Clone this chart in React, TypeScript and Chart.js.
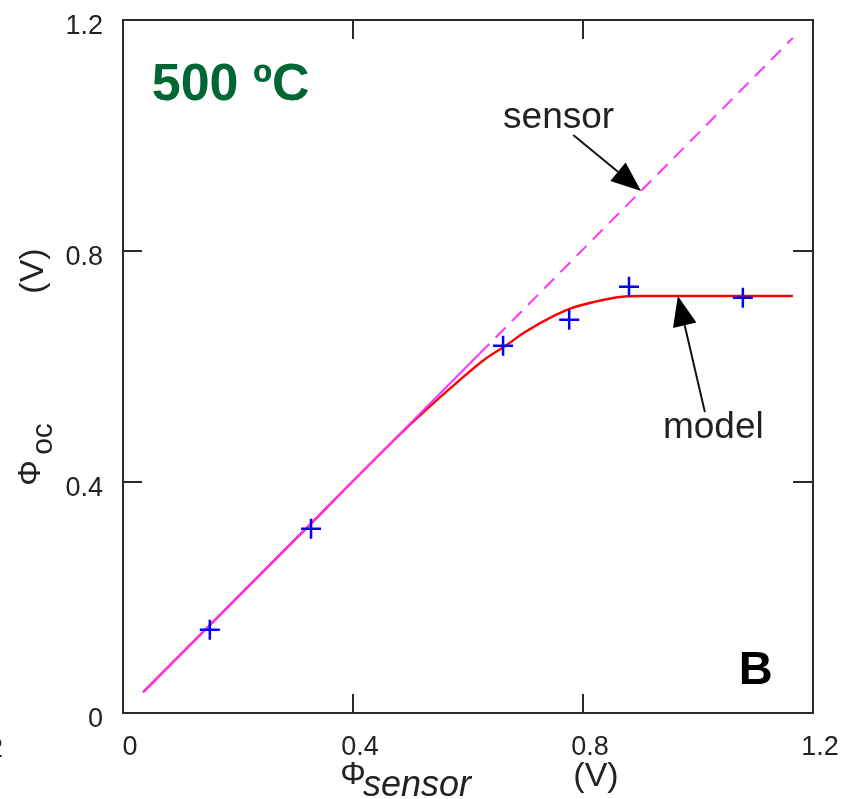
import React, { useEffect, useRef } from "react";
import { Chart, registerables } from "chart.js";

Chart.register(...registerables);

// ---- data ----
const xTickValues = [0, 0.4, 0.8, 1.2];
const xTickLabels = ["0", "0.4", "0.8", "1.2"];
const yTickValues = [0, 0.4, 0.8, 1.2];
const yTickLabels = ["0", "0.4", "0.8", "1.2"];

const measuredX = [0.151, 0.327, 0.661, 0.776, 0.88, 1.078];
const measuredY = [0.144, 0.319, 0.636, 0.681, 0.738, 0.719];

const modelX = [0.035, 0.3, 0.5, 0.57, 0.63, 0.664, 0.7, 0.75, 0.78, 0.82, 0.86, 0.9, 0.95, 1.165];
const modelY = [0.036, 0.301, 0.5, 0.563, 0.613, 0.635, 0.66, 0.688, 0.701, 0.712, 0.72, 0.722, 0.722, 0.722];

const sensorX = [0.035, 0.62, 1.165];
const sensorY = [0.036, 0.622, 1.169];

const FONT = "'Liberation Sans', Arial, sans-serif";

const toPts = (xs: number[], ys: number[]) => xs.map((x, i) => ({ x, y: ys[i] }));

function arrow(ctx: CanvasRenderingContext2D, x0: number, y0: number, x1: number, y1: number) {
  const ang = Math.atan2(y1 - y0, x1 - x0);
  const headLen = 30;
  const headW = 12;
  const bx = x1 - headLen * Math.cos(ang);
  const by = y1 - headLen * Math.sin(ang);
  ctx.save();
  ctx.strokeStyle = "#111";
  ctx.fillStyle = "#000";
  ctx.lineWidth = 2;
  ctx.beginPath();
  ctx.moveTo(x0, y0);
  ctx.lineTo(bx, by);
  ctx.stroke();
  ctx.beginPath();
  ctx.moveTo(x1, y1);
  ctx.lineTo(bx + headW * Math.sin(ang), by - headW * Math.cos(ang));
  ctx.lineTo(bx - headW * Math.sin(ang), by + headW * Math.cos(ang));
  ctx.closePath();
  ctx.fill();
  ctx.restore();
}

const overlayPlugin = {
  id: "overlay",
  afterDraw(chart: any) {
    const { ctx, chartArea } = chart;
    const xs = chart.scales.x;
    const ys = chart.scales.y;
    const { left, right, top, bottom } = chartArea;
    ctx.save();
    // frame
    ctx.strokeStyle = "#2a2a2a";
    ctx.lineWidth = 2;
    ctx.strokeRect(left, top, right - left, bottom - top);
    // inward ticks
    ctx.beginPath();
    xTickValues.slice(1, -1).forEach((v) => {
      const px = xs.getPixelForValue(v);
      ctx.moveTo(px, bottom);
      ctx.lineTo(px, bottom - 19);
      ctx.moveTo(px, top);
      ctx.lineTo(px, top + 19);
    });
    yTickValues.slice(1, -1).forEach((v) => {
      const py = ys.getPixelForValue(v);
      ctx.moveTo(left, py);
      ctx.lineTo(left + 19, py);
      ctx.moveTo(right, py);
      ctx.lineTo(right - 20, py);
    });
    ctx.stroke();

    // annotations
    const P = (x: number, y: number) => [xs.getPixelForValue(x), ys.getPixelForValue(y)];
    arrow(ctx, ...(P(0.783, 1.001) as [number, number]), ...(P(0.901, 0.904) as [number, number]));
    arrow(ctx, ...(P(1.012, 0.521) as [number, number]), ...(P(0.965, 0.722) as [number, number]));

    ctx.fillStyle = "#222";
    ctx.textAlign = "left";
    ctx.textBaseline = "alphabetic";
    ctx.font = `37px ${FONT}`;
    let p = P(0.661, 1.013);
    ctx.fillText("sensor", p[0], p[1]);
    p = P(0.939, 0.476);
    ctx.fillText("model", p[0], p[1]);

    ctx.fillStyle = "#006633";
    ctx.font = `bold 52px ${FONT}`;
    p = P(0.05, 1.061);
    ctx.fillText("500 ºC", p[0], p[1]);

    ctx.fillStyle = "#000";
    ctx.font = `bold 47px ${FONT}`;
    p = P(1.071, 0.05);
    ctx.fillText("B", p[0], p[1]);

    // x axis title
    ctx.fillStyle = "#222";
    ctx.textAlign = "center";
    ctx.textBaseline = "middle";
    ctx.font = `32px ${FONT}`;
    ctx.fillText("Φ", 353, 775);
    ctx.textAlign = "left";
    ctx.textBaseline = "alphabetic";
    ctx.font = `italic 36px ${FONT}`;
    ctx.fillText("sensor", 363, 796);
    ctx.textAlign = "center";
    ctx.textBaseline = "middle";
    ctx.font = `34px ${FONT}`;
    ctx.fillText("(V)", 596, 777);

    // y axis title (rotated)
    const rot = (txt: string, x: number, y: number, font: string) => {
      ctx.save();
      ctx.translate(x, y);
      ctx.rotate(-Math.PI / 2);
      ctx.font = font;
      ctx.textAlign = "center";
      ctx.textBaseline = "middle";
      ctx.fillText(txt, 0, 0);
      ctx.restore();
    };
    rot("(V)", 34, 271, `34px ${FONT}`);
    rot("Φ", 31, 473, `32px ${FONT}`);
    rot("oc", 44, 439, `30px ${FONT}`);

    // clipped label from neighbouring panel
    ctx.textAlign = "right";
    ctx.textBaseline = "alphabetic";
    ctx.font = `27px ${FONT}`;
    ctx.fillText("1.2", 3, 757);
    ctx.restore();
  },
};

export default function App() {
  const ref = useRef<HTMLCanvasElement>(null);
  useEffect(() => {
    const canvas = ref.current!;
    const chart = new Chart(canvas, {
      type: "scatter",
      data: {
        datasets: [
          {
            label: "measured",
            data: toPts(measuredX, measuredY),
            showLine: false,
            pointStyle: "cross",
            pointRadius: 10,
            pointBorderWidth: 2.5,
            borderColor: "#0000ff",
            backgroundColor: "#0000ff",
          },
          {
            label: "sensor",
            data: toPts(sensorX, sensorY),
            showLine: true,
            pointRadius: 0,
            borderColor: "#ff33ff",
            borderWidth: 2,
            segment: {
              borderDash: (c: any) => (c.p0.parsed.x >= 0.6 ? [14, 9] : undefined),
            },
          },
          {
            label: "model",
            data: toPts(modelX, modelY),
            showLine: true,
            pointRadius: 0,
            borderColor: "#ff0000",
            borderWidth: 2.4,
            cubicInterpolationMode: "monotone",
          },
        ],
      },
      options: {
        responsive: false,
        animation: false,
        devicePixelRatio: 1,
        layout: { padding: 0 },
        plugins: { legend: { display: false }, tooltip: { enabled: false } },
        scales: {
          x: {
            type: "linear",
            min: 0,
            max: 1.2,
            afterBuildTicks: (s: any) => {
              s.ticks = xTickValues.map((v) => ({ value: v }));
            },
            afterFit: (s: any) => {
              s.height = 86;
              s.paddingLeft = 0;
              s.paddingRight = 31;
            },
            ticks: {
              callback: (v: any) => {
                const i = xTickValues.findIndex((t) => Math.abs(t - v) < 1e-6);
                return i >= 0 ? xTickLabels[i] : "";
              },
              font: { family: FONT, size: 27 },
              color: "#222",
              padding: 18,
              labelOffset: 7,
              maxRotation: 0,
              autoSkip: false,
            },
            grid: { display: false, drawTicks: false },
            border: { display: false },
          },
          y: {
            type: "linear",
            min: 0,
            max: 1.2,
            afterBuildTicks: (s: any) => {
              s.ticks = yTickValues.map((v) => ({ value: v }));
            },
            afterFit: (s: any) => {
              s.width = 123;
              s.paddingTop = 20;
              s.paddingBottom = 0;
            },
            ticks: {
              callback: (v: any) => {
                const i = yTickValues.findIndex((t) => Math.abs(t - v) < 1e-6);
                return i >= 0 ? yTickLabels[i] : "";
              },
              font: { family: FONT, size: 27 },
              color: "#222",
              padding: 20,
              labelOffset: 7,
              autoSkip: false,
            },
            grid: { display: false, drawTicks: false },
            border: { display: false },
          },
        },
      },
      plugins: [overlayPlugin],
    } as any);
    return () => chart.destroy();
  }, []);
  return (
    <div style={{ position: "absolute", left: 0, top: 0, width: 844, height: 799, background: "#fff", overflow: "hidden" }}>
      <canvas ref={ref} width={844} height={799} style={{ width: 844, height: 799, display: "block" }} />
    </div>
  );
}
